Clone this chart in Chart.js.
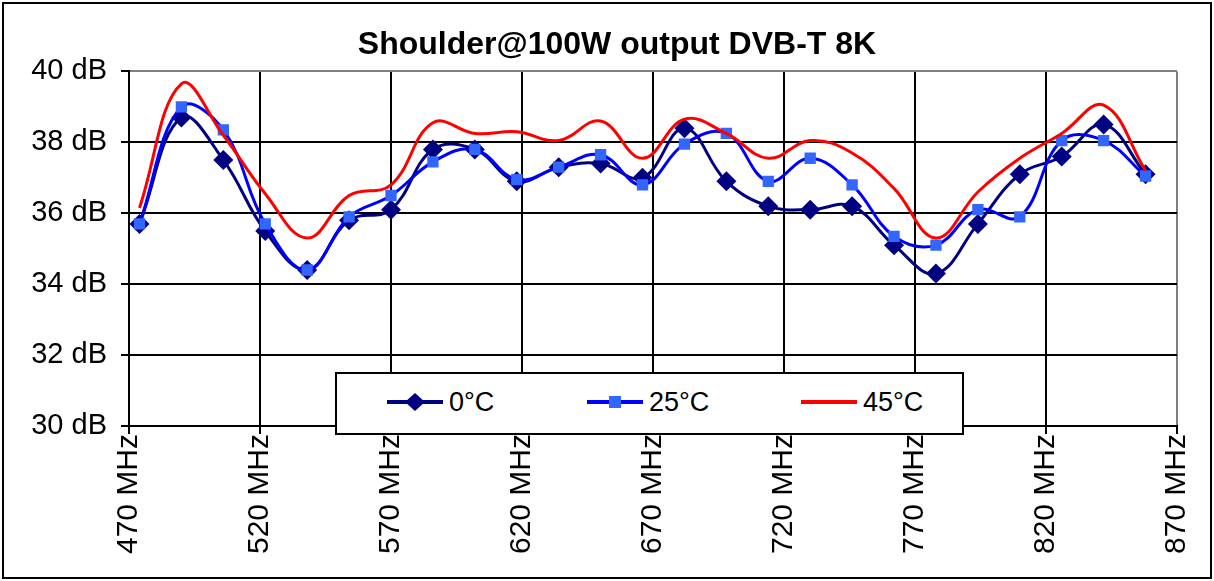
<!DOCTYPE html>
<html>
<head>
<meta charset="utf-8">
<script src="https://cdn.jsdelivr.net/npm/chart.js@4.4.1/dist/chart.umd.min.js"></script>
<style>
  body { margin: 0; background: #fff; }
  #wrap { position: relative; width: 1214px; height: 581px; }
  #legend {
    position: absolute; left: 335px; top: 372px; width: 629px; height: 63px;
    box-sizing: border-box; border: 2px solid #000; background: #fff;
    font-family: "Liberation Sans", Arial, sans-serif; font-size: 27px;
  }
  #legend svg, #legend span { position: absolute; }
  #legend span { top: 13px; line-height: 30px; }
</style>
</head>
<body>
<div id="wrap">
  <canvas id="chart" width="1214" height="581"></canvas>
  <div id="legend"></div>
</div>
<script>
const freq = [474, 490, 506, 522, 538, 554, 570, 586, 602, 618, 634, 650, 666,
  682, 698, 714, 730, 746, 762, 778, 794, 810, 826, 842, 858];
const t0 = [35.7, 38.7, 37.5, 35.5, 34.4, 35.8, 36.1, 37.8, 37.8, 36.9, 37.3, 37.4, 37.0,
  38.4, 36.9, 36.2, 36.1, 36.2, 35.1, 34.3, 35.7, 37.1, 37.6, 38.5, 37.1];
const t25 = [35.7, 39.0, 38.35, 35.7, 34.4, 35.9, 36.5, 37.45, 37.8, 36.95, 37.3, 37.65, 36.8,
  37.95, 38.25, 36.9, 37.55, 36.8, 35.35, 35.1, 36.1, 35.9, 38.05, 38.05, 37.05];
const t45 = [36.15, 39.65, 38.2, 36.55, 35.3, 36.5, 36.8, 38.55, 38.25, 38.3, 38.05, 38.6, 37.55,
  38.65, 38.25, 37.55, 38.05, 37.7, 36.7, 35.3, 36.6, 37.55, 38.25, 39.05, 37.2];
const seriesNames = ["0°C", "25°C", "45°C"];
const chartTitle = "Shoulder@100W output DVB-T 8K";

const font = "'Liberation Sans', Arial, sans-serif";

function pts(vals) {
  return freq.map((f, i) => ({ x: f, y: vals[i] }));
}

// white background + outer frame
const frame = {
  id: "frame",
  beforeDraw(chart) {
    const c = chart.ctx;
    c.save();
    c.fillStyle = "#fff";
    c.fillRect(0, 0, chart.width, chart.height);
    c.strokeStyle = "#000";
    c.lineWidth = 2;
    c.strokeRect(3, 3, chart.width - 6, chart.height - 6);
    c.restore();
  }
};

const chart = new Chart(document.getElementById("chart"), {
  type: "line",
  data: {
    datasets: [
      {
        label: seriesNames[0], data: pts(t0), order: 3,
        borderColor: "#000080", borderWidth: 3,
        pointStyle: "rectRot", pointRadius: 10, pointHoverRadius: 10,
        pointBackgroundColor: "#000080", pointBorderColor: "#000080", pointBorderWidth: 0
      },
      {
        label: seriesNames[1], data: pts(t25), order: 2,
        borderColor: "#0000ff", borderWidth: 3,
        pointStyle: "rect", pointRadius: 8, pointHoverRadius: 8,
        pointBackgroundColor: "#3366ff", pointBorderColor: "#3366ff", pointBorderWidth: 0
      },
      {
        label: seriesNames[2], data: pts(t45), order: 1,
        borderColor: "#ff0000", borderWidth: 3, pointRadius: 0
      }
    ]
  },
  options: {
    responsive: false,
    animation: false,
    devicePixelRatio: 1,
    layout: { padding: { left: 20, right: 0, top: 0, bottom: 0 } },
    elements: { line: { tension: 0.4 } },
    plugins: {
      legend: { display: false },
      tooltip: { enabled: false },
      title: {
        display: true, text: chartTitle, color: "#000",
        font: { family: font, size: 32, weight: "bold" },
        padding: { top: 26, bottom: 7 }
      }
    },
    scales: {
      x: {
        type: "linear", min: 470, max: 870,
        afterFit(s) { s.height = 155; },
        ticks: {
          stepSize: 50, maxRotation: 90, minRotation: 90, padding: 0, color: "#000",
          font: { family: font, size: 30 },
          callback: v => v + " MHz"
        },
        grid: {
          color: c => (c.tick && c.tick.value === 870 ? "#808080" : "#000"),
          lineWidth: 2, tickLength: 8, tickColor: "#000", tickWidth: 2
        },
        border: { color: "#000", width: 2 }
      },
      y: {
        min: 30, max: 40,
        afterFit(s) { s.width = 109; },
        ticks: {
          stepSize: 2, padding: 14, color: "#000",
          font: { family: font, size: 29 },
          callback: v => v + " dB"
        },
        grid: {
          color: c => (c.tick && c.tick.value === 40 ? "#808080" : "#000"),
          lineWidth: 2, tickLength: 8, tickColor: "#000", tickWidth: 2
        },
        border: { color: "#000", width: 2 }
      },
      y2: {
        position: "right",
        afterFit(s) { s.width = 37; },
        ticks: { display: false },
        grid: { display: false, drawTicks: false },
        border: { display: false }
      }
    }
  },
  plugins: [frame]
});

// legend box inside the plot, as in the original
const legendItems = [
  { x: 50, color: "#000080", marker: "diamond", fill: "#000080" },
  { x: 250, color: "#0000ff", marker: "square", fill: "#3366ff" },
  { x: 464, color: "#ff0000", marker: null }
];
const legend = document.getElementById("legend");
legendItems.forEach((it, i) => {
  let mk = "";
  if (it.marker === "diamond") mk = `<polygon points="28,3 38,12 28,21 18,12" fill="${it.fill}"/>`;
  if (it.marker === "square") mk = `<rect x="22" y="6" width="12" height="12" fill="${it.fill}"/>`;
  legend.insertAdjacentHTML("beforeend",
    `<svg style="left:${it.x}px;top:16px" width="56" height="24">` +
    `<line x1="0" y1="12" x2="56" y2="12" stroke="${it.color}" stroke-width="4"/>${mk}</svg>` +
    `<span style="left:${it.x + 62}px">${seriesNames[i]}</span>`);
});
</script>
</body>
</html>
